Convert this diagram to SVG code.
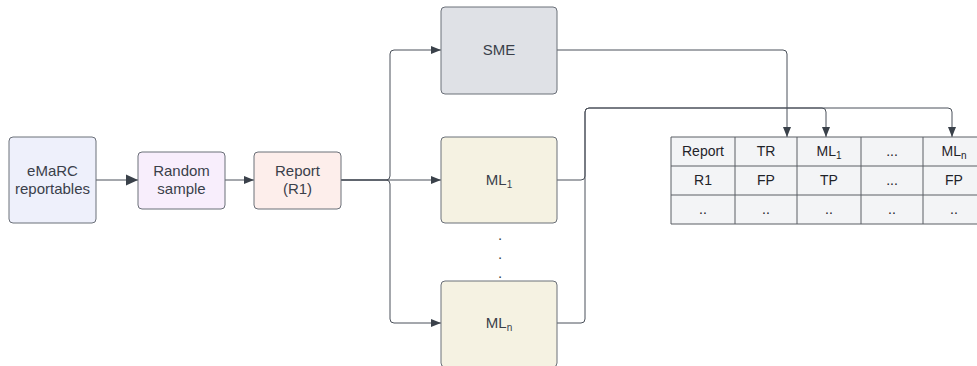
<svg xmlns="http://www.w3.org/2000/svg" width="977" height="366" viewBox="0 0 977 366">
<style>
  .box { stroke: #6b7079; stroke-width: 1; }
  .t { font-family: "Liberation Sans", Arial, sans-serif; font-size: 15px; fill: #3a3f4a; text-anchor: middle; }
  .tt { font-family: "Liberation Sans", Arial, sans-serif; font-size: 14px; fill: #1f2329; text-anchor: middle; }
  .sub { font-size: 10px; }
  .c { fill: none; stroke: #4b515a; stroke-width: 1; }
  .grid { stroke: #5a5e64; stroke-width: 1; fill: none; }
</style>
<defs>
  <marker id="ah" markerWidth="10" markerHeight="10" refX="10" refY="5" orient="auto" markerUnits="userSpaceOnUse">
    <path d="M0,1 L10,5 L0,9 Z" fill="#3a414a"/>
  </marker>
  <marker id="ahBig" markerWidth="12" markerHeight="12" refX="12" refY="6" orient="auto" markerUnits="userSpaceOnUse">
    <path d="M0,0.5 L12,6 L0,11.5 Z" fill="#3a414a"/>
  </marker>
</defs>
<g id="connectors">
  <path class="c" d="M96,180 H138" marker-end="url(#ahBig)"/>
  <path class="c" d="M225,180 H254" marker-end="url(#ah)"/>
  <path class="c" d="M341,180 H386 Q390,180 390,176 V54 Q390,50 394,50 H441" marker-end="url(#ah)"/>
  <path class="c" d="M341,180 H441" marker-end="url(#ah)"/>
  <path class="c" d="M341,180 H386 Q390,180 390,184 V319 Q390,323 394,323 H441" marker-end="url(#ah)"/>
  <path class="c" d="M557,50 H783 Q787,50 787,54 V137" marker-end="url(#ah)"/>
  <path class="c" d="M557,180 H581 Q585,180 585,176 V112 Q585,108 589,108 H822 Q826,108 826,112 V137" marker-end="url(#ah)"/>
  <path class="c" d="M557,323 H581 Q585,323 585,319 V112 Q585,108 589,108 H948 Q952,108 952,112 V137" marker-end="url(#ah)"/>
</g>
<g id="emarc">
  <rect class="box" x="9" y="137" width="87" height="86" rx="4" fill="#eef0fb"/>
  <text class="t" x="52.5" y="176">eMaRC</text>
  <text class="t" x="52.5" y="194">reportables</text>
</g>
<g id="random">
  <rect class="box" x="138" y="152" width="87" height="57" rx="4" fill="#f8eefc"/>
  <text class="t" x="181.5" y="176">Random</text>
  <text class="t" x="181.5" y="194">sample</text>
</g>
<g id="report">
  <rect class="box" x="254" y="152" width="87" height="57" rx="4" fill="#fdeeeb"/>
  <text class="t" x="297.5" y="176">Report</text>
  <text class="t" x="297.5" y="194">(R1)</text>
</g>
<g id="sme">
  <rect class="box" x="441" y="7" width="116" height="87" rx="4" fill="#dfe1e6"/>
  <text class="t" x="499" y="55">SME</text>
</g>
<g id="ml1">
  <rect class="box" x="441" y="137" width="116" height="86" rx="4" fill="#f5f2e2"/>
  <text class="t" x="499" y="185">ML<tspan class="sub" dy="3">1</tspan></text>
</g>
<g id="dots">
  <text class="t" x="500" y="240">.</text>
  <text class="t" x="500" y="259">.</text>
  <text class="t" x="500" y="278">.</text>
</g>
<g id="mln">
  <rect class="box" x="441" y="281" width="116" height="86" rx="4" fill="#f5f2e2"/>
  <text class="t" x="499" y="328">ML<tspan class="sub" dy="3">n</tspan></text>
</g>
<g id="table">
  <rect x="671" y="137" width="320" height="87" fill="#f3f4f6"/>
  <path class="grid" d="M671,137 H991 M671,166 H991 M671,195 H991 M671,224 H991 M671,137 V224 M735,137 V224 M797,137 V224 M861,137 V224 M923,137 V224"/>
  <text class="tt" x="703" y="156">Report</text>
  <text class="tt" x="766" y="156">TR</text>
  <text class="tt" x="829" y="156">ML<tspan class="sub" dy="3">1</tspan></text>
  <text class="tt" x="892" y="156">...</text>
  <text class="tt" x="954" y="156">ML<tspan class="sub" dy="3">n</tspan></text>
  <text class="tt" x="703" y="185">R1</text>
  <text class="tt" x="766" y="185">FP</text>
  <text class="tt" x="829" y="185">TP</text>
  <text class="tt" x="892" y="185">...</text>
  <text class="tt" x="954" y="185">FP</text>
  <text class="tt" x="703" y="214">..</text>
  <text class="tt" x="766" y="214">..</text>
  <text class="tt" x="829" y="214">..</text>
  <text class="tt" x="892" y="214">..</text>
  <text class="tt" x="954" y="214">..</text>
</g>
</svg>
